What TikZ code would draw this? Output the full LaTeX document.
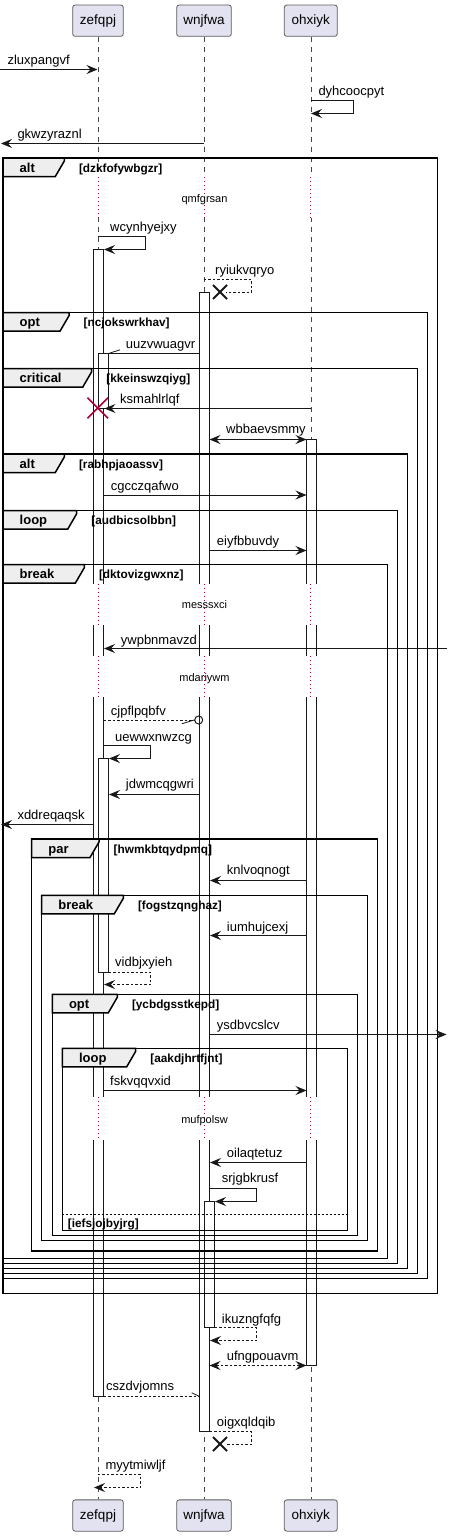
\documentclass[tikz,border=0pt]{standalone}
\usepackage{fontspec}
\setmainfont{Liberation Sans}
\usetikzlibrary{arrows.meta,shapes.misc}
\definecolor{linec}{HTML}{181818}
\definecolor{partfill}{HTML}{E2E2F0}
\definecolor{tabc}{HTML}{EEEEEE}
\definecolor{delayc}{HTML}{A80036}
\newcommand{\msgfont}{\fontsize{13}{15}\selectfont}
\newcommand{\condfont}{\bfseries\fontsize{11.8}{14}\selectfont}
\newcommand{\tabfont}{\bfseries\fontsize{13}{15}\selectfont}
\newcommand{\delayfont}{\fontsize{11}{13}\selectfont}
\newcommand{\partfont}{\fontsize{13.5}{16}\selectfont}
% frame: name, x0, y0, x1, y1, tabright, label, condition
\newcommand{\seqframe}[8]{%
  \draw[frameline] (#2,#3) rectangle (#4,#5);
  \draw[tabshape] (#2,#3) -- (#6,#3) -- (#6,#3+3) -- (#6-9,#3+18.5) -- (#2,#3+18.5) -- cycle;
  \node[tablbl] (#1t) at (#2+16.5,#3+14) {#7};
  \node[condlbl] (#1c) at (#6+14.5,#3+14) {#8};
}
% straight message: name, style, x1, x2, y
\newcommand{\hmsg}[5]{%
  \coordinate (#1a) at (#3,#5); \coordinate (#1b) at (#4,#5);
  \draw[#2] (#1a) -- (#1b);
}
% self message: name, style, x1, y1, xr, x2, y2
\newcommand{\smsg}[7]{%
  \coordinate (#1a) at (#3,#4); \coordinate (#1b) at (#6,#7);
  \draw[#2] (#1a) -- (#5,#4) |- (#1b);
}
\begin{document}
\begin{tikzpicture}[x=1pt,y=-1pt,
  part/.style={draw=linec!70, fill=partfill, line width=0.8pt, rounded corners=2.5pt, font=\partfont, inner sep=0pt, minimum height=31.3pt},
  life/.style={draw=linec!80, line width=0.6pt, dash pattern=on 5pt off 5pt},
  delayline/.style={draw=delayc, line width=0.9pt, dash pattern=on 1pt off 3pt},
  actbox/.style={draw=linec, fill=white, line width=0.9pt},
  msg/.style={draw=linec, line width=0.9pt, -{Stealth[length=11pt,width=9pt,inset=4pt]}},
  bmsg/.style={draw=linec, line width=0.9pt, {Stealth[length=11pt,width=9pt,inset=4pt]}-{Stealth[length=11pt,width=9pt,inset=4pt]}},
  plain/.style={draw=linec, line width=0.9pt},
  dashedline/.style={dash pattern=on 2.5pt off 2pt},
  barb/.style={draw=linec, line width=0.8pt},
  frameline/.style={draw=black, line width=1.5pt},
  tabshape/.style={fill=tabc, draw=black, line width=1.5pt},
  tablbl/.style={font=\tabfont, anchor=base west, inner sep=0pt},
  condlbl/.style={font=\condfont, anchor=base west, inner sep=0pt},
  lbl/.style={font=\msgfont, anchor=base west, inner sep=0pt},
  dlbl/.style={font=\delayfont, anchor=base, inner sep=0pt},
  kill/.style={cross out, draw=linec, line width=2pt, minimum size=12pt, inner sep=0pt},
  redkill/.style={cross out, draw=delayc, line width=1.6pt, minimum size=19pt, inner sep=0pt},
  gap/.style={fill=white, draw=none}
]
\useasboundingbox (0,0) rectangle (452,1536);
\fill[white] (0,0) rectangle (452,1536);

% participants
\node[part, minimum width=50.6pt] (zt) at (98,20.7) {zefqpj};
\node[part, minimum width=54.6pt] (wt) at (204,20.7) {wnjfwa};
\node[part, minimum width=53pt] (ot) at (310.8,20.7) {ohxiyk};
\node[part, minimum width=50.6pt] (zb) at (98,1515.5) {zefqpj};
\node[part, minimum width=54.6pt] (wb) at (204,1515.5) {wnjfwa};
\node[part, minimum width=53pt] (ob) at (310.8,1515.5) {ohxiyk};

% lifelines
\draw[life] (zt.south) -- (zb.north);
\draw[life] (wt.south) -- (wb.north);
\draw[life] (ot.south) -- (ob.north);

% activations
\draw[actbox] (93.5,249.5) rectangle (103.5,1396.5);
\draw[actbox] (98.5,353.5) rectangle (108.5,408.5);
\draw[actbox] (199.5,292.5) rectangle (209.5,1431.5);
\draw[actbox] (306.5,439.5) rectangle (316.5,1365.5);
\draw[actbox] (98.5,758.5) rectangle (108.5,972);
\draw[actbox] (204.5,1201.5) rectangle (214.5,1327.5);

% delays: gaps and dotted lifelines
\foreach \ya/\yb in {177.3/218, 583.7/625.3, 656/696.7, 1097.3/1140}{
  \fill[gap] (91,\ya) rectangle (106,\yb);
  \fill[gap] (197,\ya) rectangle (212,\yb);
  \fill[gap] (304,\ya) rectangle (319,\yb);
  \draw[delayline] (98,\ya) -- (98,\yb);
  \draw[delayline] (204,\ya) -- (204,\yb);
  \draw[delayline] (310.5,\ya) -- (310.5,\yb);
}

% frames
\seqframe{fa}{3}{158}{437.7}{1293.3}{64.3}{alt}{[dzkfofywbgzr]}
\seqframe{fb}{3}{312.7}{427.7}{1278.7}{69}{opt}{[ncjokswrkhav]}
\seqframe{fc}{3}{368.7}{417.7}{1273.7}{91.7}{critical}{[kkeinswzqiyg]}
\seqframe{fd}{3}{454}{407.7}{1268.7}{64.3}{alt}{[rabhpjaoassv]}
\seqframe{fe}{3}{510.7}{397.7}{1263.7}{76.7}{loop}{[audbicsolbbn]}
\seqframe{ff}{3}{564.7}{387.7}{1258.7}{84.3}{break}{[dktovizgwxnz]}
\seqframe{fg}{31.7}{839}{377.7}{1251}{99}{par}{[hwmkbtqydpmq]}
\seqframe{fh}{41.7}{895.3}{367.7}{1240.5}{123.3}{break}{[fogstzqnghaz]}
\seqframe{fi}{52.3}{994.3}{357.7}{1235.5}{117.3}{opt}{[ycbdgsstkepd]}
\seqframe{fj}{62.3}{1048.3}{347.7}{1230.5}{135.7}{loop}{[aakdjhrtfjnt]}
\draw[black, line width=0.8pt, dash pattern=on 2pt off 2pt] (62.3,1214.7) -- (347.7,1214.7);
\node[condlbl] (fjelse) at (67.7,1227) {[iefsjojbyjrg]};

% delay texts
\node[dlbl] (d1) at (204.5,202.2) {qmfgrsan};
\node[dlbl] (d2) at (204.5,608.8) {messsxci};
\node[dlbl] (d3) at (204.5,681.8) {mdariywm};
\node[dlbl] (d4) at (204.5,1123.3) {mufpolsw};

% messages
\hmsg{m1}{msg}{0}{97.5}{69.5}
\node[lbl] (m1l) at (7.3,65) {zluxpangvf};
\smsg{m2}{msg}{310.5}{100.5}{353.5}{311}{113.5}
\node[lbl] (m2l) at (318.3,95.3) {dyhcoocpyt};
\hmsg{m3}{msg}{203.5}{1}{143.5}
\node[lbl] (m3l) at (17.3,138.7) {gkwzyraznl};
\smsg{m4}{msg}{97.5}{236.5}{145.5}{104}{249.5}
\node[lbl] (m4l) at (110,231.3) {wcynhyejxy};
\smsg{m5}{plain,dashedline}{203.5}{279.5}{251.5}{226}{292}
\node[kill] (m5x) at (220,292) {};
\node[lbl] (m5l) at (215,274.3) {ryiukvqryo};
\hmsg{m6}{plain}{199.5}{108.5}{353.5}
\draw[barb] (m6b) -- ++(11.5,-3.7);
\node[lbl] (m6l) at (125.7,348.3) {uuzvwuagvr};
\hmsg{m7}{msg}{310.5}{104.5}{408.5}
\node[redkill] (m7x) at (97.8,408) {};
\node[lbl] (m7l) at (120,403.3) {ksmahlrlqf};
\hmsg{m8}{bmsg}{209.5}{306.5}{439.5}
\node[lbl] (m8l) at (226,433.3) {wbbaevsmmy};
\hmsg{m9}{msg}{103.5}{306.5}{495}
\node[lbl] (m9l) at (110.7,490) {cgcczqafwo};
\hmsg{m10}{msg}{209.5}{306.5}{550.5}
\node[lbl] (m10l) at (216.7,545.3) {eiyfbbuvdy};
\hmsg{m11}{msg}{447}{104}{648.5}
\node[lbl] (m11l) at (120.7,644) {ywpbnmavzd};
\hmsg{m12}{plain,dashedline}{103.5}{194.5}{720}
\node[circle, draw=linec, line width=1pt, minimum size=8pt, inner sep=0pt] (m12o) at (198.7,720) {};
\draw[barb] (m12o.west) -- ++(-12.5,3.8);
\node[lbl] (m12l) at (110.7,715) {cjpflpqbfv};
\smsg{m13}{msg}{103.5}{745.5}{150.5}{109}{758.5}
\node[lbl] (m13l) at (115,741.7) {uewwxnwzcg};
\hmsg{m14}{msg}{199.5}{109}{794.5}
\node[lbl] (m14l) at (125.7,788.7) {jdwmcqgwri};
\hmsg{m15}{msg}{93.5}{1}{824.5}
\node[lbl] (m15l) at (17.3,819.7) {xddreqaqsk};
\hmsg{m16}{msg}{306.5}{210}{880.5}
\node[lbl] (m16l) at (226.7,874.7) {knlvoqnogt};
\hmsg{m17}{msg}{306.5}{210}{935.5}
\node[lbl] (m17l) at (226.7,931) {iumhujcexj};
\smsg{m18}{msg,dashedline}{108.5}{972}{150.5}{104}{984.5}
\node[lbl] (m18l) at (115,966) {vidbjxyieh};
\hmsg{m19}{msg}{209.5}{446.5}{1034.5}
\node[lbl] (m19l) at (216.7,1029) {ysdbvcslcv};
\hmsg{m20}{msg}{103.5}{306.5}{1090.5}
\node[lbl] (m20l) at (110,1085.7) {fskvqqvxid};
\hmsg{m21}{msg}{306.5}{210}{1162.5}
\node[lbl] (m21l) at (226.7,1157) {oilaqtetuz};
\smsg{m22}{msg}{209.5}{1188.5}{256.5}{215}{1201.5}
\node[lbl] (m22l) at (221.7,1182.7) {srjgbkrusf};
\smsg{m23}{msg,dashedline}{214.5}{1327.5}{256.5}{210}{1340.5}
\node[lbl] (m23l) at (221.7,1323.3) {ikuzngfqfg};
\hmsg{m24}{bmsg,dashedline}{209.5}{306.5}{1365.5}
\node[lbl] (m24l) at (226.7,1360) {ufngpouavm};
\hmsg{m25}{plain,dashedline}{103.5}{199.5}{1396.5}
\draw[barb] (m25b) -- ++(-7.8,-3.8);
\node[lbl] (m25l) at (106,1390.7) {cszdvjomns};
\smsg{m26}{plain,dashedline}{209.5}{1431.5}{251.5}{226}{1444}
\node[kill] (m26x) at (220,1444) {};
\node[lbl] (m26l) at (216.7,1426.3) {oigxqldqib};
\smsg{m27}{msg,dashedline}{97.5}{1474.5}{140.5}{94}{1487.5}
\node[lbl] (m27l) at (105.3,1469.7) {myytmiwljf};
\end{tikzpicture}
\end{document}
